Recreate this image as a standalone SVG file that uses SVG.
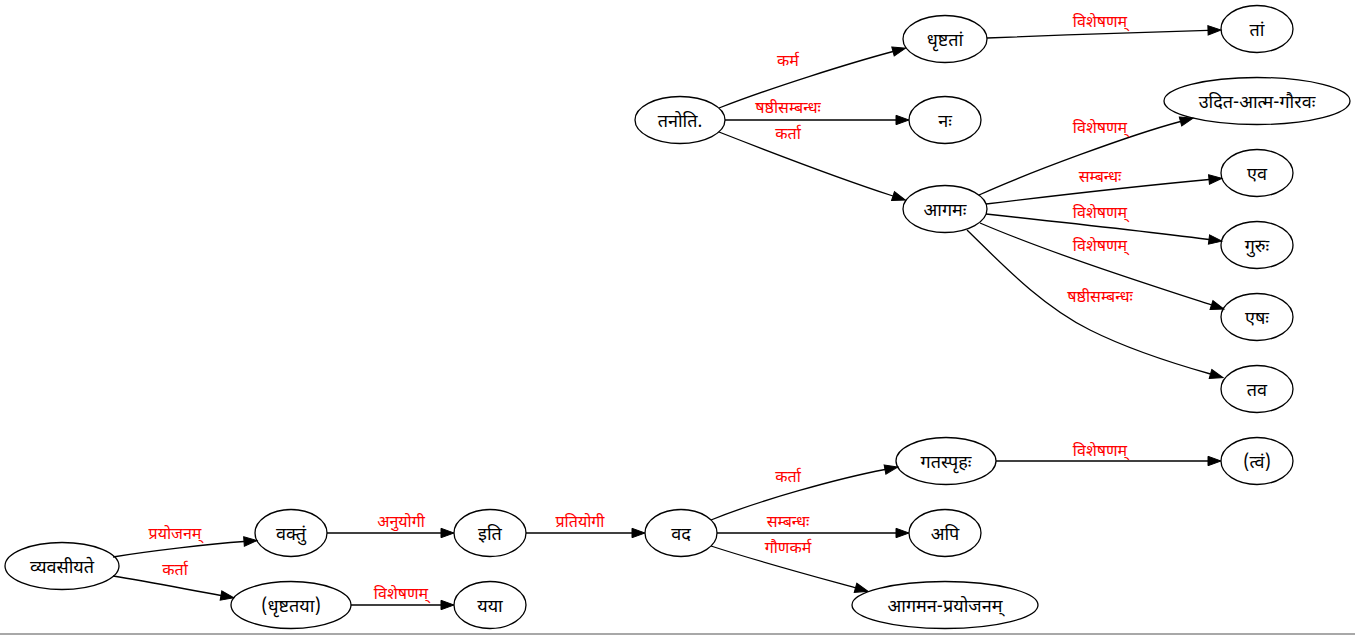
<svg xmlns="http://www.w3.org/2000/svg" width="1355" height="635" viewBox="0 0 1355 635">
<style>
.n ellipse{fill:none;stroke:#000;stroke-width:1.3}
.n text{font-family:"Noto Sans Devanagari","Noto Sans","Liberation Sans",sans-serif;font-size:18px;fill:#000;text-anchor:middle}
.e path{fill:none;stroke:#000;stroke-width:1.3;marker-end:url(#ah)}
.l text{font-family:"Noto Sans Devanagari","Noto Sans","Liberation Sans",sans-serif;font-size:16px;fill:#ff0000;text-anchor:middle}
</style>
<defs>
<marker id="ah" markerUnits="userSpaceOnUse" markerWidth="14" markerHeight="10" refX="0" refY="5" orient="auto" overflow="visible">
<path d="M0,0.3 L13,5 L0,9.7 Z" fill="#000" stroke="#000" stroke-width="1"/>
</marker>
</defs>
<rect x="0" y="0" width="1355" height="635" fill="#fff"/>
<g id="connectors" class="e">
<path d="M719,108 C770,88 850,63 893,51.5"/>
<path d="M725,120 L896,120"/>
<path d="M719,132 C770,152 850,182 893,196"/>
<path d="M987,38 C1060,35 1150,32 1208,30.3"/>
<path d="M979,195 C1030,172 1130,135 1180.5,121.5"/>
<path d="M986,204 C1060,195 1150,185 1209,179.5"/>
<path d="M986,214 C1060,222 1150,232 1209,239.5"/>
<path d="M980,223 C1050,253 1150,285 1211.5,305"/>
<path d="M967,230 C1000,262 1040,305 1090,330 C1130,350 1175,364 1210.5,374"/>
<path d="M113,557 C150,551 210,544 244,541.5"/>
<path d="M113,576 C150,582 190,590 221,595.5"/>
<path d="M327,533 L441,533"/>
<path d="M351,605 L441,605"/>
<path d="M526,533 L632,533"/>
<path d="M711,520 C760,500 840,478 885,469.5"/>
<path d="M717,533 L896,533"/>
<path d="M711,546 C760,562 820,578 855.5,587.8"/>
<path d="M996,461 L1208,461"/>
</g>
<g id="edge-labels" class="l">
<text x="788" y="66">कर्म</text>
<text x="788" y="113">षष्ठीसम्बन्धः</text>
<text x="788" y="139">कर्ता</text>
<text x="1100" y="27">विशेषणम्</text>
<text x="1100" y="133">विशेषणम्</text>
<text x="1100" y="182">सम्बन्धः</text>
<text x="1100" y="218">विशेषणम्</text>
<text x="1100" y="251">विशेषणम्</text>
<text x="1100" y="302">षष्ठीसम्बन्धः</text>
<text x="175" y="539">प्रयोजनम्</text>
<text x="175" y="575">कर्ता</text>
<text x="401" y="527">अनुयोगी</text>
<text x="401" y="599">विशेषणम्</text>
<text x="580" y="527">प्रतियोगी</text>
<text x="788" y="482">कर्ता</text>
<text x="788" y="527">सम्बन्धः</text>
<text x="788" y="553">गौणकर्म</text>
<text x="1100" y="456">विशेषणम्</text>
</g>
<g id="n-tanoti" class="n"><ellipse cx="680" cy="120" rx="45" ry="23.5"/><text x="680" y="126.5">तनोति.</text></g>
<g id="n-dhrishtatam" class="n"><ellipse cx="945" cy="39" rx="42" ry="23.5"/><text x="945" y="45.5">धृष्टतां</text></g>
<g id="n-tam" class="n"><ellipse cx="1257" cy="29" rx="36" ry="23.5"/><text x="1257" y="35.5">तां</text></g>
<g id="n-nah" class="n"><ellipse cx="945" cy="120" rx="36" ry="23.5"/><text x="945" y="126.5">नः</text></g>
<g id="n-agamah" class="n"><ellipse cx="945" cy="209" rx="42" ry="23.5"/><text x="945" y="215.5">आगमः</text></g>
<g id="n-udita" class="n"><ellipse cx="1257" cy="101" rx="93" ry="23.5"/><text x="1257" y="107.5">उदित-आत्म-गौरवः</text></g>
<g id="n-eva" class="n"><ellipse cx="1257" cy="173" rx="36" ry="23.5"/><text x="1257" y="179.5">एव</text></g>
<g id="n-guruh" class="n"><ellipse cx="1257" cy="245" rx="36" ry="23.5"/><text x="1257" y="251.5">गुरुः</text></g>
<g id="n-eshah" class="n"><ellipse cx="1257" cy="317" rx="36" ry="23.5"/><text x="1257" y="323.5">एषः</text></g>
<g id="n-tava" class="n"><ellipse cx="1257" cy="389" rx="36" ry="23.5"/><text x="1257" y="395.5">तव</text></g>
<g id="n-vyavasiyate" class="n"><ellipse cx="62" cy="566" rx="57" ry="23.5"/><text x="62" y="572.5">व्यवसीयते</text></g>
<g id="n-vaktum" class="n"><ellipse cx="291" cy="533" rx="36" ry="23.5"/><text x="291" y="539.5">वक्तुं</text></g>
<g id="n-dhrishtataya" class="n"><ellipse cx="291" cy="605" rx="60" ry="23.5"/><text x="291" y="611.5">(धृष्टतया)</text></g>
<g id="n-iti" class="n"><ellipse cx="490" cy="533" rx="36" ry="23.5"/><text x="490" y="539.5">इति</text></g>
<g id="n-yaya" class="n"><ellipse cx="490" cy="605" rx="36" ry="23.5"/><text x="490" y="611.5">यया</text></g>
<g id="n-vada" class="n"><ellipse cx="681" cy="533" rx="36" ry="23.5"/><text x="681" y="539.5">वद</text></g>
<g id="n-gataspruhah" class="n"><ellipse cx="946" cy="461" rx="50" ry="23.5"/><text x="946" y="467.5">गतस्पृहः</text></g>
<g id="n-tvam" class="n"><ellipse cx="1257" cy="461" rx="36" ry="23.5"/><text x="1257" y="467.5">(त्वं)</text></g>
<g id="n-api" class="n"><ellipse cx="945" cy="533" rx="36" ry="23.5"/><text x="945" y="539.5">अपि</text></g>
<g id="n-agamana" class="n"><ellipse cx="945" cy="605" rx="93" ry="23.5"/><text x="945" y="611.5">आगमन-प्रयोजनम्</text></g>
<rect x="0" y="633" width="1355" height="2" fill="#a8a8a8"/>
</svg>
